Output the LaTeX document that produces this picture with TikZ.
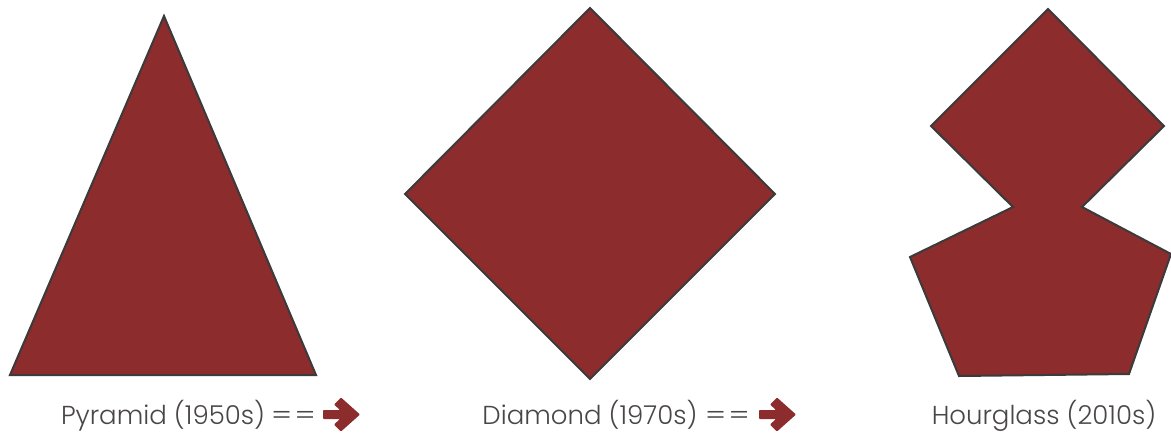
\documentclass[tikz,border=0pt]{standalone}
\usepackage{fontspec}
\setmainfont{Poppins Light}
\definecolor{shapefill}{HTML}{8C2C2D}
\definecolor{shapeline}{HTML}{3C3A3A}
\definecolor{labelgray}{HTML}{4A4646}
\begin{document}
\begin{tikzpicture}[x=1pt,y=-1pt,
  fillshape/.style={fill=shapefill,draw=shapeline,line width=2pt,line join=miter},
  lab/.style={anchor=base,text=labelgray,font=\fontsize{26}{30}\selectfont,inner sep=0pt},
  eqs/.style={anchor=base west,text=labelgray,font=\fontsize{26}{30}\selectfont,inner sep=0pt,xscale=1.2},
  arrowfill/.style={fill=shapefill,rounded corners=0.8pt}]
\useasboundingbox (0,0) rectangle (1171,432);
% pyramid
\draw[fillshape] (164,16) -- (316,375) -- (10,375) -- cycle;
% diamond
\draw[fillshape] (590,8) -- (775,194) -- (590,379) -- (405,194) -- cycle;
% hourglass
\draw[fillshape] (1048,9) -- (1164,126) -- (1082,207) -- (1171,254) -- (1129,374) -- (959,376) -- (910,257) -- (1013,207) -- (931,126) -- cycle;
% labels
\node[lab] (l1) at (163,424) {Pyramid (1950s)};
\node[eqs] (e1) at (271,424) {=\kern2pt=};
\node[lab] (l2) at (590,424) {Diamond (1970s)};
\node[eqs] (e2) at (705,424) {=\kern2pt=};
\node[lab] (l3) at (1044,424) {Hourglass (2010s)};
% arrows
\foreach \tx/\nm in {360/a1,796/a2}{
  \coordinate (\nm) at (\tx,414.5);
  \fill[arrowfill,shift={(\nm)}] (0,0) -- (-19,-17) -- (-26,-10) -- (-20,-4.5) -- (-37,-4.5) -- (-37,4.5) -- (-20,4.5) -- (-26,10) -- (-19,17) -- cycle;
}
\end{tikzpicture}
\end{document}
